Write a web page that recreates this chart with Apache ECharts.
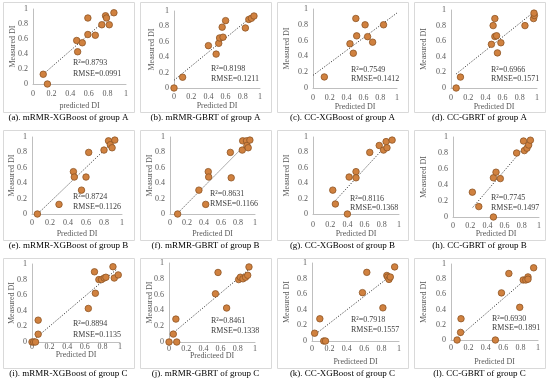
<!DOCTYPE html>
<html><head><meta charset="utf-8">
<script src="https://cdn.jsdelivr.net/npm/echarts@6/dist/echarts.min.js"></script>
<style>html,body{margin:0;padding:0;background:#fff}#c{width:550px;height:384px}</style>
</head><body><div id="c"></div>
<script>
// ---- data ----
const captions = ['(a). mRMR-XGBoost of group A','(b). mRMR-GBRT of group A','(c). CC-XGBoost of group A','(d). CC-GBRT of group A',
  '(e). mRMR-XGBoost of group B','(f). mRMR-GBRT of group B','(g). CC-XGBoost of group B','(h). CC-GBRT of group B',
  '(i). mRMR-XGBoost of group C','(j). mRMR-GBRT of group C','(k). CC-XGBoost of group C','(l). CC-GBRT of group C'];
const xNames = ['predicted DI','Predicted DI','Predicted DI','Predicted DI','Predicted DI','Predicted DI','Predicted DI','Predicted DI','Predicted DI','Predicteed DI','Predicteed DI','Predicted DI'];
const yName = 'Measured DI';
const r2Labels = ['R²=0.8793','R²=0.8198','R²=0.7549','R²=0.6966','R²=0.8724','R²=0.8631','R²=0.8116','R²=0.7745','R²=0.8894','R²=0.8461','R²=0.7918','R²=0.6930'];
const rmseLabels = ['RMSE=0.0991','RMSE=0.1211','RMSE=0.1412','RMSE=0.1571','RMSE=0.1126','RMSE=0.1166','RMSE=0.1368','RMSE=0.1497','RMSE=0.1135','RMSE=0.1338','RMSE=0.1557','RMSE=0.1891'];

const pred_a = [0.11,0.155,0.47,0.48,0.53,0.59,0.59,0.67,0.74,0.78,0.79,0.82,0.87];
const meas_a = [0.13,0,0.58,0.43,0.55,0.66,0.88,0.65,0.79,0.91,0.88,0.79,0.95];
const trend_a = [0.11,0.13,0.87,0.95];

const pred_b = [0,0.10,0.40,0.49,0.52,0.53,0.57,0.56,0.60,0.83,0.87,0.90,0.93];
const meas_b = [0,0.14,0.55,0.44,0.58,0.65,0.66,0.79,0.875,0.78,0.89,0.905,0.935];
const trend_b = [0,0.10,0.94,0.96];

const pred_c = [0.135,0.44,0.48,0.51,0.52,0.62,0.65,0.71,0.84];
const meas_c = [0.14,0.56,0.44,0.88,0.66,0.80,0.65,0.58,0.80];
const trend_c = [0,0.16,1.0,0.95];

const pred_d = [0.06,0.11,0.47,0.49,0.51,0.51,0.53,0.54,0.58,0.86,0.96,0.97,0.965];
const meas_d = [0,0.14,0.56,0.80,0.89,0.66,0.67,0.45,0.58,0.80,0.89,0.93,0.96];
const trend_d = [0.06,0.18,0.97,0.98];

const pred_e = [0.06,0.30,0.46,0.47,0.55,0.60,0.63,0.80,0.85,0.87,0.89,0.92];
const meas_e = [0,0.125,0.55,0.48,0.31,0.48,0.80,0.83,0.95,0.90,0.86,0.96];
const trend_e = [0.07,0.01,0.91,0.95];

const pred_f = [0.09,0.34,0.42,0.45,0.455,0.71,0.72,0.85,0.855,0.90,0.905,0.92,0.94];
const meas_f = [0,0.31,0.125,0.55,0.48,0.80,0.47,0.83,0.95,0.95,0.89,0.86,0.96];
const trend_f = [0.09,0.01,0.94,0.96];

const pred_g = [0.23,0.26,0.40,0.42,0.50,0.50,0.66,0.77,0.82,0.85,0.86,0.92];
const meas_g = [0.31,0.13,0,0.48,0.55,0.47,0.80,0.89,0.83,0.94,0.86,0.96];
const trend_g = [0.24,0.15,0.90,0.95];

const pred_h = [0.225,0.30,0.47,0.47,0.50,0.55,0.74,0.82,0.83,0.86,0.88,0.90];
const meas_h = [0.31,0.13,0,0.49,0.56,0.48,0.80,0.95,0.83,0.86,0.90,0.96];
const trend_h = [0.23,0.12,0.91,0.97];

const pred_i = [0,0.02,0.04,0.07,0.07,0.64,0.71,0.72,0.76,0.79,0.82,0.84,0.92,0.935,0.98];
const meas_i = [0,0,0,0.28,0.10,0.43,0.90,0.625,0.80,0.80,0.82,0.83,0.965,0.82,0.86];
const trend_i = [0,0.01,0.96,0.93];

const pred_j = [0,0.05,0.08,0.09,0.54,0.57,0.67,0.81,0.83,0.86,0.89,0.915,0.93];
const meas_j = [0,0.10,0.29,0,0.61,0.88,0.43,0.79,0.82,0.80,0.82,0.845,0.95];
const trend_j = [0.01,0.08,0.92,0.91];

const pred_k = [0.03,0.09,0.135,0.155,0.58,0.63,0.815,0.86,0.87,0.885,0.90,0.95];
const meas_k = [0.10,0.285,0,0,0.62,0.88,0.425,0.84,0.82,0.79,0.82,0.95];
const trend_k = [0.02,0.07,0.92,0.85];

const pred_l = [0.07,0.11,0.115,0.51,0.58,0.665,0.79,0.83,0.86,0.885,0.885,0.95];
const meas_l = [0,0.10,0.28,0,0.62,0.875,0.43,0.79,0.79,0.83,0.80,0.95];
const trend_l = [0.08,0.03,0.90,0.84];

const axisTicks = [0,0.2,0.4,0.6,0.8,1];

// ---- layout (pixels) ----
const preds = [pred_a,pred_b,pred_c,pred_d,pred_e,pred_f,pred_g,pred_h,pred_i,pred_j,pred_k,pred_l];
const meass = [meas_a,meas_b,meas_c,meas_d,meas_e,meas_f,meas_g,meas_h,meas_i,meas_j,meas_k,meas_l];
const trends = [trend_a,trend_b,trend_c,trend_d,trend_e,trend_f,trend_g,trend_h,trend_i,trend_j,trend_k,trend_l];
const boxLeft = [3,140,277,414];
const boxTop = [2,130,258];
const captionY = [118,246,374];
const grids = [ // left, top, width, height
  [33,9,93,75],[174,11,86,77],[313,9,84,79],[451,10,86,78],
  [32,137,90,77],[170,137,85,77],[313,137,86,77],[453,137,86,80],
  [32,264,88,78],[169,263,86,79],[312,263,87,78],[451,264,87,76]];
const xLabelMargin = [6,4.5,6,6,4.5,4.5,6.5,5,1,2.5,3.5,3.5];
const xNameGap = [18,14,14.5,14.5,16,16,16,13,8.5,9.5,17,18];
const yNameGap = [16,18,22,23,16,16,22,25,16,15,21,23];
const annPos = [ // x, y of R2 line, y of RMSE line
  [73,63,74],[211,69,79],[351,70,79],[491,70,79],
  [73,197,207],[210,194,204],[350,199,208],[491,198,208],
  [73,324,335],[211,321,331],[351,320,330],[492,319,328]];

const FONT = '"Liberation Serif","Times New Roman",serif';
const grey = '#595959';
const option = {animation:false, grid:[], xAxis:[], yAxis:[], series:[], graphic:[]};

for (let i=0;i<12;i++){
  const g = grids[i];
  option.grid.push({left:g[0], top:g[1], width:g[2], height:g[3]});
  const base = {
    type:'value', min:0, max:1, interval:0.2, gridIndex:i,
    axisLine:{show:true, onZero:false, lineStyle:{color:'#bfbfbf', width:1}},
    axisTick:{show:false}, splitLine:{show:false},
    nameLocation:'middle', nameMoveOverlap:false,
    nameTextStyle:{color:grey, fontSize:8, fontFamily:FONT}
  };
  const lbl = {color:grey, fontSize:8, fontFamily:FONT, showMinLabel:true, showMaxLabel:true, hideOverlap:false};
  option.xAxis.push(Object.assign({}, base, {name:xNames[i], nameGap:xNameGap[i],
    axisLabel:Object.assign({}, lbl, {margin:xLabelMargin[i]})}));
  option.yAxis.push(Object.assign({}, base, {name:yName, nameGap:yNameGap[i],
    axisLabel:Object.assign({}, lbl, {margin:5})}));
  const t = trends[i];
  option.series.push({
    type:'line', xAxisIndex:i, yAxisIndex:i, data:[[t[0],t[1]],[t[2],t[3]]],
    symbol:'none', lineStyle:{color:'#404040', width:1, type:[1.2,1.6]}, z:1, silent:true
  });
  option.series.push({
    type:'scatter', xAxisIndex:i, yAxisIndex:i,
    data: preds[i].map((x,k)=>[x, meass[i][k]]),
    symbol:'circle', symbolSize:6.5,
    itemStyle:{color:'#D0813F', borderColor:'#8E5526', borderWidth:0.8, opacity:1}, z:3
  });
  const col = i%4, row = Math.floor(i/4);
  option.graphic.push({type:'rect', z:-10, silent:true,
    shape:{x:boxLeft[col]+0.5, y:boxTop[row]+0.5, width:131, height:110},
    style:{fill:'none', stroke:'#d9d9d9', lineWidth:1}});
  option.graphic.push({type:'text', x:boxLeft[col]+65.5, y:captionY[row],
    style:{text:captions[i], font:'9px '+FONT, fill:'#000', textAlign:'center', textVerticalAlign:'middle'}});
  const a = annPos[i];
  option.graphic.push({type:'text', x:a[0], y:a[1],
    style:{text:r2Labels[i], font:'8px '+FONT, fill:'#404040', textAlign:'left', textVerticalAlign:'middle'}});
  option.graphic.push({type:'text', x:a[0], y:a[2],
    style:{text:rmseLabels[i], font:'8px '+FONT, fill:'#404040', textAlign:'left', textVerticalAlign:'middle'}});
}
const chart = echarts.init(document.getElementById('c'), null, {renderer:'canvas'});
chart.setOption(option);
</script>
</body></html>
